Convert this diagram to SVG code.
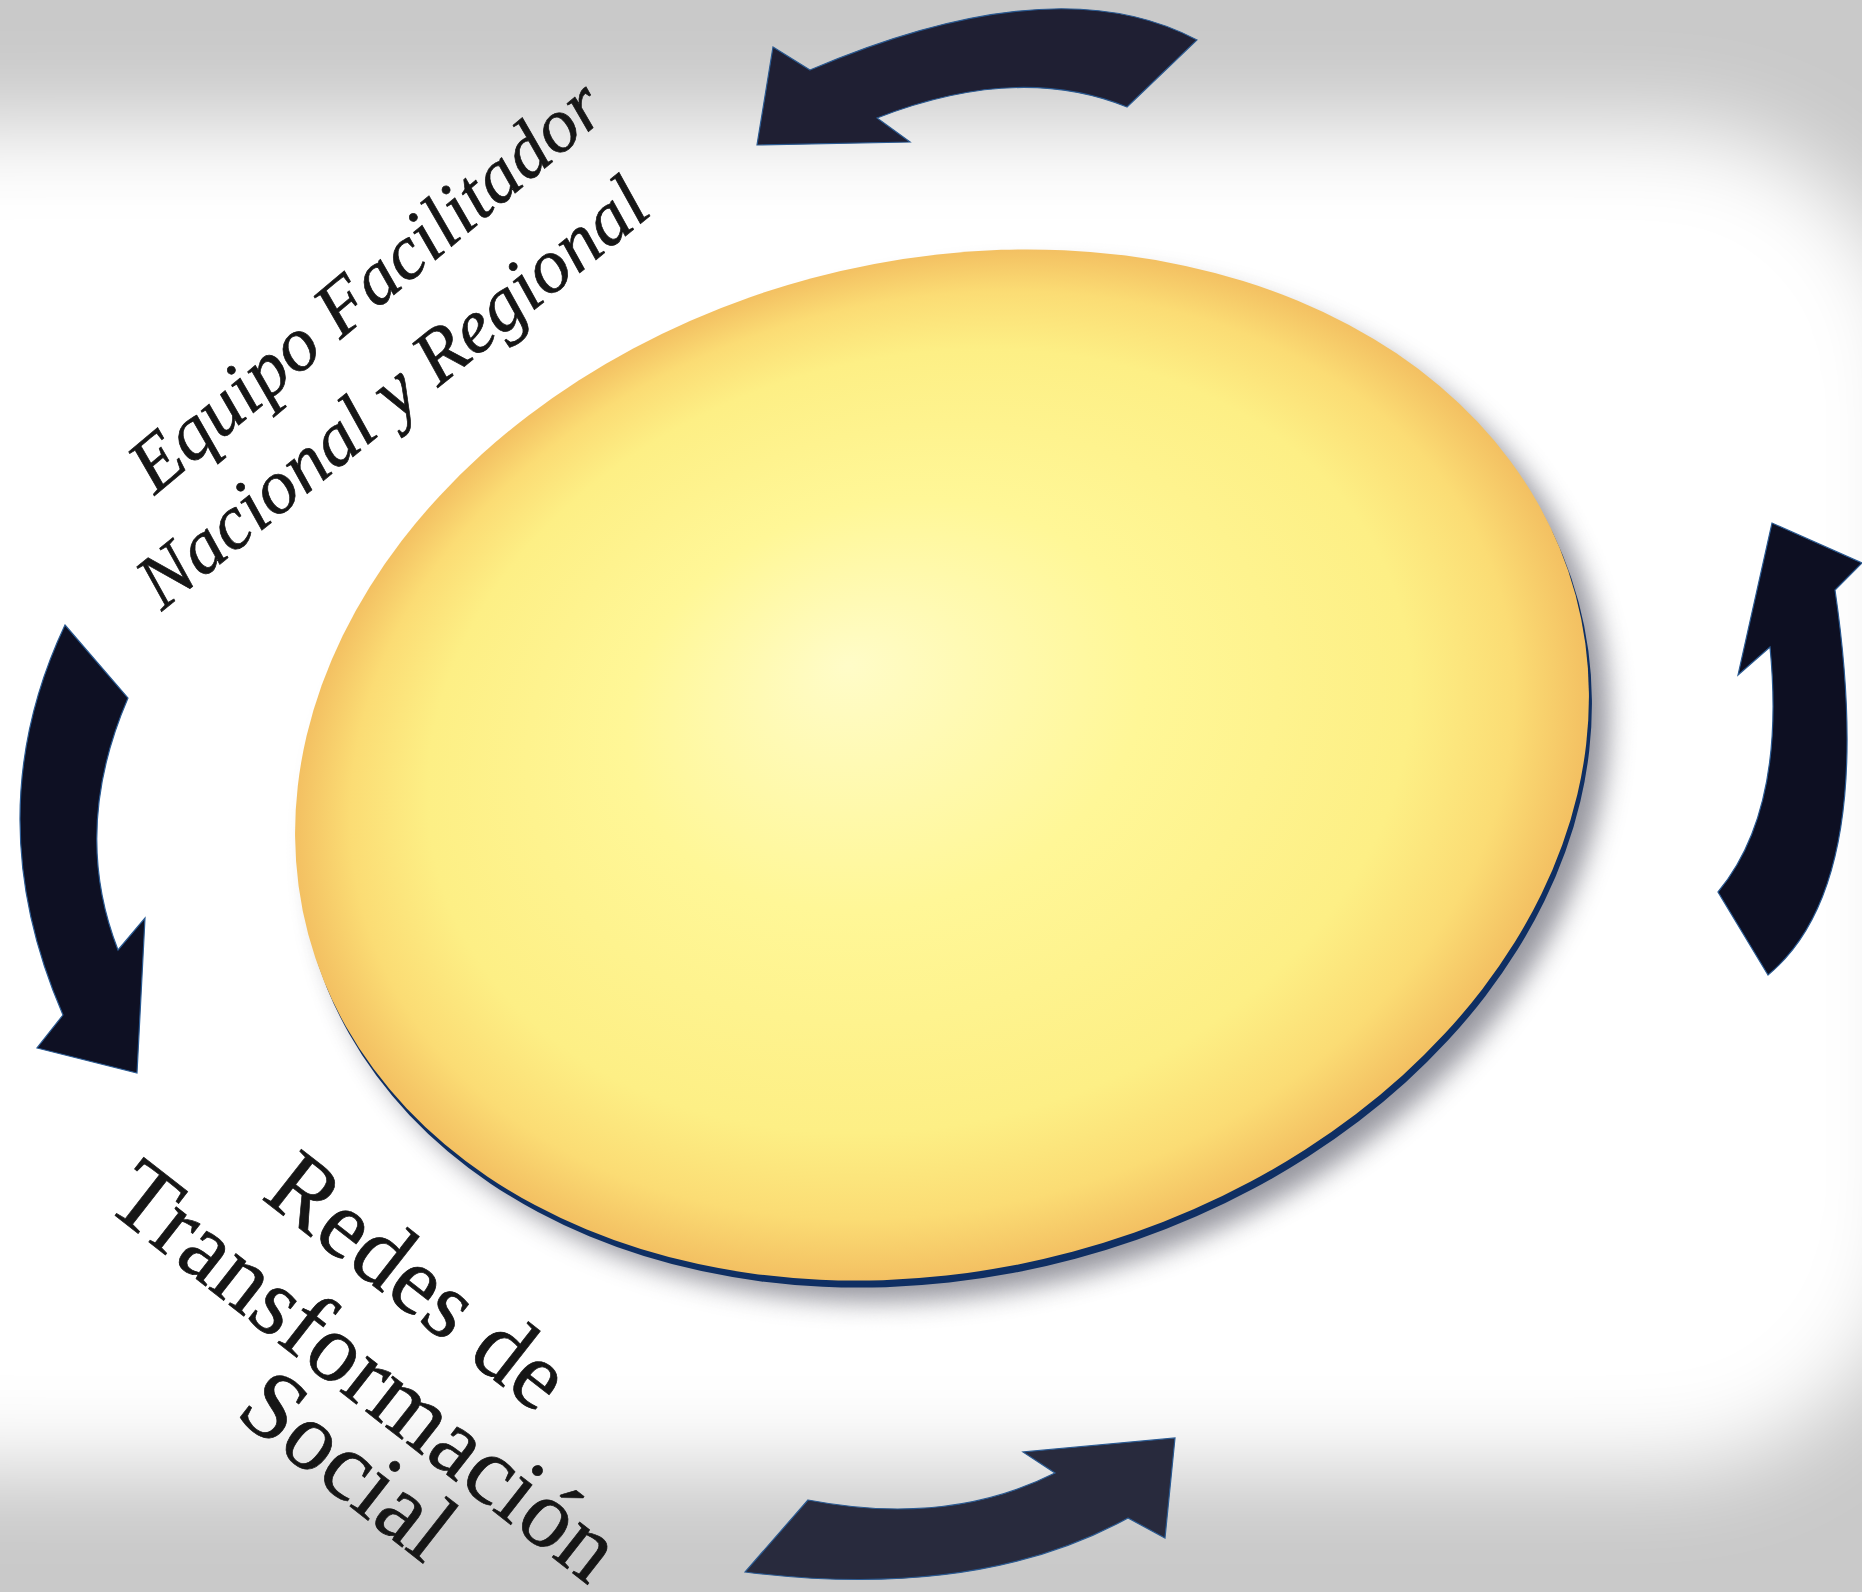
<svg xmlns="http://www.w3.org/2000/svg" width="1862" height="1592" viewBox="0 0 1862 1592">
  <defs>
    <filter id="bgBlur" x="-20%" y="-20%" width="140%" height="140%">
      <feGaussianBlur stdDeviation="45"/>
    </filter>
    <filter id="shadowBlur" x="-20%" y="-20%" width="140%" height="140%">
      <feGaussianBlur stdDeviation="13"/>
    </filter>
    <radialGradient id="faceGrad" cx="0.5" cy="0.5" r="0.5" fx="0.45" fy="0.38">
      <stop offset="0" stop-color="#fffcc8"/>
      <stop offset="0.4" stop-color="#fff797"/>
      <stop offset="0.76" stop-color="#fdef85"/>
      <stop offset="0.9" stop-color="#fbdc74"/>
      <stop offset="1" stop-color="#f3c062"/>
    </radialGradient>
  </defs>
  <style>
    .arrow { stroke: #2a5a92; stroke-width: 1.2; stroke-linejoin: miter; }
    .lblItalic { font-family: "Liberation Serif", "Times New Roman", serif; font-style: italic; font-size: 77px; fill: #161616; stroke: #161616; stroke-width: 0.7; }
    .lbl { font-family: "Liberation Serif", "Times New Roman", serif; font-size: 97px; fill: #161616; stroke: #161616; stroke-width: 0.7; }
  </style>

  <!-- background vignette -->
  <rect x="0" y="0" width="1862" height="1592" fill="#c9c9c9"/>
  <rect x="-300" y="125" width="2220" height="1345" rx="260" fill="#ffffff" filter="url(#bgBlur)"/>

  <!-- central disc -->
  <g id="disc">
    <ellipse cx="962" cy="786" rx="656" ry="504" transform="rotate(-15 962 786)" fill="#5e5e6c" opacity="0.65" filter="url(#shadowBlur)"/>
    <ellipse cx="945" cy="772" rx="656" ry="504" transform="rotate(-15 945 772)" fill="#0f2f63"/>
    <ellipse cx="942" cy="765" rx="656" ry="504" transform="rotate(-15 942 765)" fill="url(#faceGrad)"/>
  </g>

  <!-- connectors -->
  <g id="connectors">
    <path id="arrow-top" class="arrow" fill="#1f1f33" d="M1197,40 Q1056,-35 810,70 L773,47 L757,145 L910,142 L877,118 Q1018,63 1127,107 Z"/>
    <path id="arrow-left" class="arrow" fill="#0e1023" d="M65,625 L128,698 Q71,830 118,950 L145,918 L137,1073 L37,1048 L63,1015 Q-24,814 65,625 Z"/>
    <path id="arrow-right" class="arrow" fill="#0d0f22" d="M1768,975 L1718,892 Q1786,810 1770,647 L1738,675 L1772,523 L1862,563 L1835,590 Q1878,884 1768,975 Z"/>
    <path id="arrow-bottom" class="arrow" fill="#282a3d" d="M808,1500 L745,1572 Q977,1601 1128,1518 L1165,1538 L1175,1438 L1023,1452 L1055,1473 Q948,1527 808,1500 Z"/>
  </g>

  <!-- labels -->
  <g id="label-equipo">
    <text class="lblItalic" text-anchor="middle" transform="translate(382 305) rotate(-40)">Equipo Facilitador</text>
    <text class="lblItalic" text-anchor="middle" transform="translate(408 412) rotate(-39)">Nacional y Regional</text>
  </g>
  <g id="label-redes">
    <text class="lbl" text-anchor="middle" transform="translate(399 1306) rotate(38)">Redes de</text>
    <text class="lbl" text-anchor="middle" transform="translate(346 1396) rotate(38)">Transformación</text>
    <text class="lbl" text-anchor="middle" transform="translate(329 1490) rotate(38)">Social</text>
  </g>
</svg>
